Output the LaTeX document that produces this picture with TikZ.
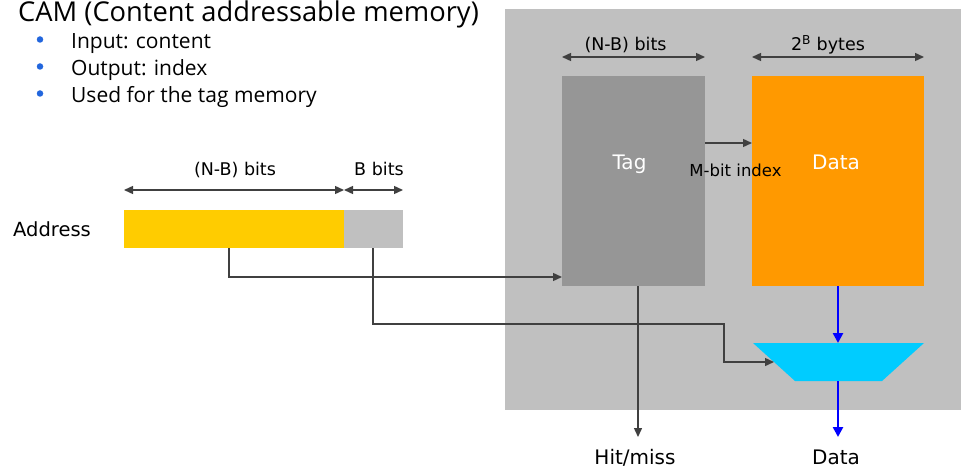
\documentclass[tikz,border=0pt]{standalone}
\usepackage{fontspec}
\setmainfont{Open Sans}
\newfontfamily\labelfont{DejaVu Sans}
\usetikzlibrary{arrows.meta}
\definecolor{panelgray}{HTML}{C0C0C0}
\definecolor{taggray}{HTML}{969696}
\definecolor{dataorange}{HTML}{FF9900}
\definecolor{addryellow}{HTML}{FFCC00}
\definecolor{muxcyan}{HTML}{00CCFF}
\definecolor{wire}{HTML}{404040}
\definecolor{busblue}{HTML}{0000FF}
\definecolor{bulletblue}{HTML}{2266DD}
\begin{document}
\begin{tikzpicture}[x=1pt,y=-1pt,
  block/.style={inner sep=0pt, outer sep=0pt, draw=none},
  tipw/.tip={Triangle[length=9pt,width=8pt]},
  wirearrow/.style={draw=wire, line width=1.4pt, -tipw},
  wireline/.style={draw=wire, line width=1.4pt},
  dimarrow/.style={draw=wire, line width=1.4pt, tipw-tipw},
  busarrow/.style={draw=busblue, line width=2.5pt, -{Triangle[length=10pt,width=10pt]}},
  lbl/.style={font=\labelfont\fontsize{17.5}{20}\selectfont, text=black, inner sep=0pt, anchor=base},
  biglbl/.style={font=\labelfont\fontsize{20}{24}\selectfont, inner sep=0pt, anchor=base},
  bullettext/.style={font=\fontsize{21}{25}\selectfont, inner sep=0pt, anchor=base west},
  bulletdot/.style={circle, fill=bulletblue, inner sep=0pt, minimum size=6.5pt},
]
\useasboundingbox (0,0) rectangle (961,468);

% heading and bullet list
\node[font=\fontsize{27.3}{32}\selectfont, inner sep=0pt, anchor=base west] (title) at (18,21.5) {CAM (Content addressable memory)};
\node[bulletdot] (b1) at (40,39.5) {};
\node[bulletdot] (b2) at (40,66.5) {};
\node[bulletdot] (b3) at (40,93.5) {};
\node[bullettext] (t1) at (71,49) {Input: content};
\node[bullettext] (t2) at (71,76) {Output: index};
\node[bullettext] (t3) at (71,102.5) {Used for the tag memory};

% cache panel
\fill[panelgray] (505,9) rectangle (961,410);

% tag and data arrays
\node[block, fill=taggray, minimum width=143pt, minimum height=210pt] (tag) at (633.5,181) {};
\node[block, fill=dataorange, minimum width=172pt, minimum height=210pt] (data) at (838,181) {};
\node[biglbl, text=white] (taglbl) at (629.5,169) {Tag};
\node[biglbl, text=white] (datalbl) at (836,169) {Data};

% width markers above the arrays
\draw[dimarrow] (tag.north west |- 0,57) -- (tag.north east |- 0,57);
\draw[dimarrow] (data.north west |- 0,57) -- (data.north east |- 0,57);
\node[lbl] (tagw) at (625.5,51) {(N-B) bits};
\node[lbl] (dataw) at (828,51) {2\textsuperscript{B} bytes};

% index from tag CAM to data array
\draw[wirearrow] (tag.east |- 0,143) -- (data.west |- 0,143);
\node[lbl, font=\labelfont\fontsize{16.5}{20}\selectfont] (mbit) at (735.5,176) {M-bit index};

% multiplexer
\fill[muxcyan] (753,343) -- (924,343) -- (882,381) -- (795,381) -- cycle;
\coordinate (muxtop) at (838,343);
\coordinate (muxbot) at (838,381);
\coordinate (muxin) at (774,362);

% address word
\node[lbl, font=\labelfont\fontsize{19.5}{24}\selectfont, anchor=base west] (addr) at (13,236) {Address};
\node[block, fill=addryellow, minimum width=220pt, minimum height=38pt] (yel) at (234,229) {};
\node[block, fill=panelgray, minimum width=59pt, minimum height=38pt] (gry) at (373.5,229) {};
\draw[dimarrow] (yel.west |- 0,190) -- (yel.east |- 0,190);
\draw[dimarrow] (gry.west |- 0,190) -- (gry.east |- 0,190);
\node[lbl] (nbw) at (235,175.5) {(N-B) bits};
\node[lbl] (bw) at (379,175.5) {B bits};

% wiring
\draw[wirearrow] (yel.south -| 229,0) |- (tag.west |- 0,277);
\draw[wirearrow] (gry.south -| 373,0) -- (373,324) -- (724,324) |- (muxin);

% outputs
\node[biglbl] (hit) at (635,464) {Hit/miss};
\node[biglbl] (dout) at (836,464) {Data};
\coordinate (hitend) at (638,437);
\coordinate (doutend) at (838,437);
\draw[wirearrow] (tag.south -| hitend) -- (hitend);
\draw[busarrow] (data.south) -- (muxtop);
\draw[busarrow] (muxbot) -- (doutend);
\end{tikzpicture}
\end{document}
